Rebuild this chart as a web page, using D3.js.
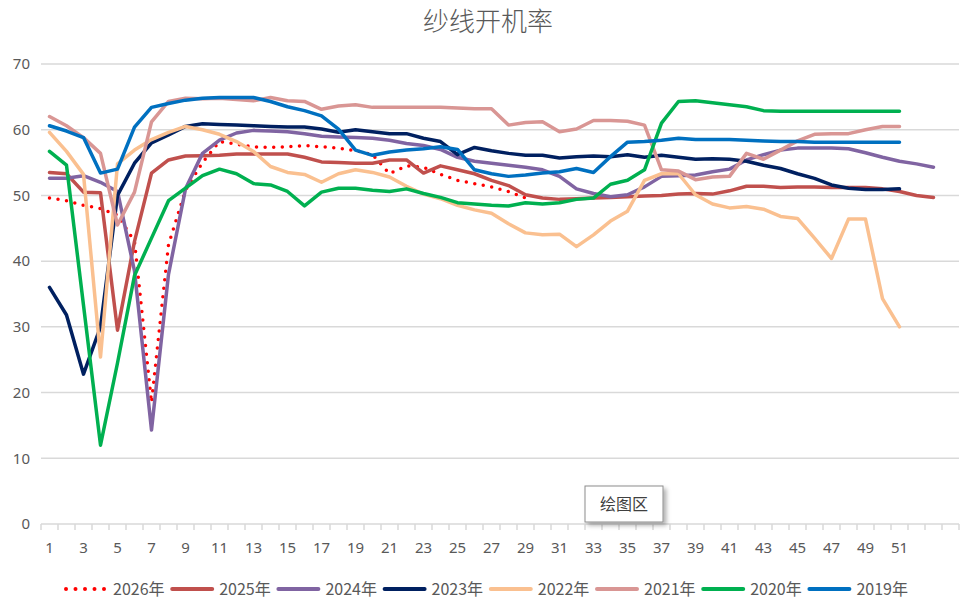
<!DOCTYPE html>
<html>
<head>
<meta charset="utf-8">
<script src="https://cdn.jsdelivr.net/npm/d3@7"></script>
<style>
  body { margin: 0; background: #fff; }
  svg { display: block; font-family: "Noto Sans CJK SC", "Noto Sans", sans-serif; }
</style>
</head>
<body>
<div id="output"></div>
<script>
// weeks 1..54 on the category axis
var weeks = d3.range(1, 55);
var xTickLabels = [1, 3, 5, 7, 9, 11, 13, 15, 17, 19, 21, 23, 25, 27, 29, 31, 33, 35, 37, 39, 41, 43, 45, 47, 49, 51];
var yTicks = [0, 10, 20, 30, 40, 50, 60, 70];

var seriesNames = ["2026年", "2025年", "2024年", "2023年", "2022年", "2021年", "2020年", "2019年"];
var seriesColors = ["#FF0000", "#C0504D", "#8064A2", "#002060", "#FAC090", "#D99694", "#00B050", "#0070C0"];

var y2026 = [49.6, 49.2, 48.5, 48.0, 47.0, 43.0, 18.5, 42.5, 50.8, 55.0, 58.2, 57.8, 57.4, 57.3, 57.4, 57.6, 57.4, 57.2,
    56.8, 56.2, 53.3, 54.5, 54.3, 53.2, 52.3, 51.8, 51.3, 50.6, 49.6];
var y2025 = [53.5, 53.3, 50.5, 50.4, 29.5, 43.0, 53.4, 55.4, 56.0, 56.05, 56.1, 56.3, 56.3, 56.3, 56.3, 55.8, 55.1, 55.0,
    54.9, 54.9, 55.4, 55.4, 53.4, 54.5, 53.9, 53.3, 52.3, 51.5, 50.1, 49.6, 49.4, 49.5, 49.6, 49.7, 49.8, 49.9,
    50.0, 50.2, 50.3, 50.2, 50.7, 51.4, 51.4, 51.2, 51.3, 51.3, 51.2, 51.2, 51.2, 51.0, 50.6, 50.0, 49.7];
var y2024 = [52.6, 52.6, 53.0, 52.0, 50.6, 38.5, 14.3, 38.0, 51.0, 56.4, 58.4, 59.5, 59.9, 59.8, 59.7, 59.4, 59.0, 58.9,
    58.8, 58.7, 58.4, 57.9, 57.6, 57.0, 55.8, 55.2, 54.9, 54.6, 54.3, 53.9, 52.9, 51.0, 50.3, 49.8, 50.1, 51.3,
    52.9, 53.0, 53.1, 53.6, 54.0, 55.4, 56.2, 56.9, 57.2, 57.2, 57.2, 57.1, 56.5, 55.8, 55.2, 54.8, 54.3];
var y2023 = [36.0, 31.8, 22.8, 30.0, 50.0, 54.9, 58.0, 59.2, 60.5, 60.9, 60.8, 60.7, 60.6, 60.5, 60.4, 60.4, 60.1, 59.6,
    60.0, 59.7, 59.4, 59.4, 58.7, 58.2, 56.2, 57.3, 56.8, 56.4, 56.1, 56.1, 55.7, 55.9, 56.0, 55.9, 56.2, 55.8,
    56.1, 55.8, 55.5, 55.6, 55.5, 55.2, 54.6, 54.1, 53.3, 52.6, 51.6, 51.1, 50.9, 50.9, 51.0];
var y2022 = [59.6, 56.7, 53.2, 25.4, 54.8, 56.9, 58.5, 59.6, 60.5, 60.0, 59.3, 58.2, 56.7, 54.4, 53.5, 53.2, 52.0, 53.3,
    53.9, 53.5, 52.8, 51.4, 50.2, 49.5, 48.5, 47.8, 47.3, 45.7, 44.3, 44.0, 44.1, 42.2, 44.0, 46.1, 47.6, 52.3,
    53.3, 53.3, 50.1, 48.7, 48.1, 48.3, 47.9, 46.8, 46.5, 43.5, 40.4, 46.4, 46.4, 34.3, 30.0];
var y2021 = [62.0, 60.6, 58.8, 56.4, 45.5, 50.5, 61.2, 64.3, 64.8, 64.7, 64.8, 64.6, 64.4, 64.9, 64.4, 64.3, 63.1, 63.6,
    63.8, 63.4, 63.4, 63.4, 63.4, 63.4, 63.3, 63.2, 63.2, 60.7, 61.1, 61.2, 59.7, 60.1, 61.4, 61.4, 61.3, 60.7,
    53.9, 53.7, 52.4, 52.8, 52.9, 56.4, 55.5, 56.9, 58.3, 59.3, 59.4, 59.4, 60.0, 60.5, 60.5];
var y2020 = [56.7, 54.6, 33.3, 12.0, 24.5, 37.8, 43.5, 49.2, 51.1, 53.0, 54.0, 53.3, 51.8, 51.6, 50.6, 48.4, 50.5, 51.1,
    51.1, 50.8, 50.6, 51.0, 50.3, 49.7, 48.9, 48.7, 48.5, 48.4, 48.9, 48.7, 48.9, 49.4, 49.6, 51.7, 52.3, 53.9,
    61.0, 64.3, 64.4, 64.1, 63.8, 63.5, 62.9, 62.8, 62.8, 62.8, 62.8, 62.8, 62.8, 62.8, 62.8];
var y2019 = [60.6, 59.8, 58.8, 53.4, 54.0, 60.4, 63.4, 64.0, 64.5, 64.8, 64.9, 64.9, 64.9, 64.3, 63.5, 62.9, 62.1, 60.1,
    56.9, 56.1, 56.6, 56.9, 57.1, 57.4, 57.0, 53.9, 53.3, 52.9, 53.1, 53.4, 53.6, 54.1, 53.5, 55.9, 58.1, 58.2,
    58.4, 58.7, 58.5, 58.5, 58.5, 58.4, 58.3, 58.2, 58.2, 58.1, 58.1, 58.1, 58.1, 58.1, 58.1];

var seriesValues = [y2026, y2025, y2024, y2023, y2022, y2021, y2020, y2019];

var w = 966;
var h = 603;
var margin = {top: 64, right: 7, bottom: 79, left: 41};
var textColor = "#595959";
var gridColor = "#D9D9D9";

var x = d3.scalePoint()
    .domain(weeks)
    .range([margin.left, w - margin.right])
    .padding(0.5);

var step = x.step();

var y = d3.scaleLinear()
    .domain([0, 70])
    .range([h - margin.bottom, margin.top]);

var svg = d3.select("#output").append("svg")
    .attr("width", w)
    .attr("height", h);

var defs = svg.append("defs");
var shadow = defs.append("filter")
    .attr("id", "shadow")
    .attr("x", "-20%").attr("y", "-20%")
    .attr("width", "150%").attr("height", "160%");
shadow.append("feDropShadow")
    .attr("dx", 3).attr("dy", 3)
    .attr("stdDeviation", 2)
    .attr("flood-color", "#000")
    .attr("flood-opacity", 0.3);

// title
svg.append("text")
    .attr("x", 488)
    .attr("y", 31)
    .attr("text-anchor", "middle")
    .attr("font-size", 26)
    .attr("font-weight", 300)
    .attr("fill", textColor)
    .text("纱线开机率");

// horizontal grid lines
svg.append("g")
    .selectAll("line")
    .data(yTicks.filter(function (d) { return d > 0; }))
    .enter()
    .append("line")
    .attr("x1", margin.left)
    .attr("x2", w - margin.right)
    .attr("y1", function (d) { return y(d); })
    .attr("y2", function (d) { return y(d); })
    .attr("stroke", gridColor)
    .attr("stroke-width", 1.5);

// y axis labels
var yAxis = d3.axisLeft(y)
    .tickValues(yTicks)
    .tickSize(0)
    .tickPadding(11);

var gy = svg.append("g")
    .attr("transform", "translate(" + margin.left + ",0)")
    .call(yAxis);
gy.select(".domain").remove();
gy.selectAll("text")
    .attr("font-size", 15)
    .attr("fill", textColor)
    .attr("font-family", "\"Noto Sans\", sans-serif");

// x axis: line, boundary ticks, odd week labels
var xAxisG = svg.append("g")
    .attr("transform", "translate(0," + y(0) + ")");

xAxisG.append("line")
    .attr("x1", margin.left)
    .attr("x2", w - margin.right)
    .attr("stroke", gridColor)
    .attr("stroke-width", 1.5);

xAxisG.selectAll(".tickmark")
    .data(weeks.concat([weeks.length + 1]))
    .enter()
    .append("line")
    .attr("class", "tickmark")
    .attr("x1", function (d) { return margin.left + (d - 1) * step; })
    .attr("x2", function (d) { return margin.left + (d - 1) * step; })
    .attr("y1", 0)
    .attr("y2", 6)
    .attr("stroke", gridColor)
    .attr("stroke-width", 1.5);

xAxisG.selectAll(".xlabel")
    .data(xTickLabels)
    .enter()
    .append("text")
    .attr("class", "xlabel")
    .attr("x", function (d) { return x(d); })
    .attr("y", 29)
    .attr("text-anchor", "middle")
    .attr("font-size", 15)
    .attr("font-family", "\"Noto Sans\", sans-serif")
    .attr("fill", textColor)
    .text(function (d) { return d; });

// series lines
var line = d3.line()
    .defined(function (d) { return d != null; })
    .x(function (d, i) { return x(weeks[i]); })
    .y(function (d) { return y(d); });

var lines = svg.append("g");
seriesValues.forEach(function (vals, i) {
    var p = lines.append("path")
        .datum(vals)
        .attr("d", line)
        .attr("fill", "none")
        .attr("stroke", seriesColors[i])
        .attr("stroke-width", 3.5)
        .attr("stroke-linejoin", "round")
        .attr("stroke-linecap", "round");
    if (i == 0) {
        p.attr("stroke-dasharray", "0 8.6");
    }
});

// legend
var legend = svg.append("g")
    .attr("transform", "translate(65,589)");

var legendItem = legend.selectAll(".item")
    .data(seriesNames)
    .enter()
    .append("g")
    .attr("class", "item")
    .attr("transform", function (d, i) { return "translate(" + (i * 106.2) + ",0)"; });

legendItem.append("line")
    .attr("x1", 1)
    .attr("x2", 41)
    .attr("stroke", function (d, i) { return seriesColors[i]; })
    .attr("stroke-width", 4)
    .attr("stroke-linecap", "round")
    .attr("stroke-dasharray", function (d, i) { return i == 0 ? "0 9.5" : null; });

legendItem.append("text")
    .attr("x", 48)
    .attr("y", 6)
    .attr("font-size", 16)
    .attr("fill", textColor)
    .text(function (d) { return d; });

// "绘图区" hover label
var tip = svg.append("g")
    .attr("transform", "translate(585,486)");
tip.append("rect")
    .attr("width", 78)
    .attr("height", 36)
    .attr("fill", "#fff")
    .attr("stroke", "#8C8C8C")
    .attr("stroke-width", 1)
    .attr("filter", "url(#shadow)");
tip.append("text")
    .attr("x", 39)
    .attr("y", 24)
    .attr("text-anchor", "middle")
    .attr("font-size", 16)
    .attr("fill", "#404040")
    .text("绘图区");
</script>
</body>
</html>
